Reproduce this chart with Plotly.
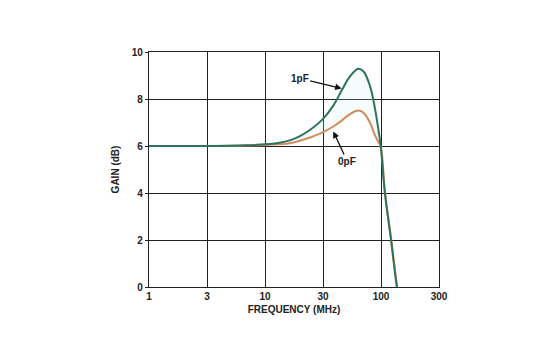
import plotly.graph_objects as go

# Frequency points (MHz)
freq = [1, 2, 3, 5, 7, 10, 13, 16.4, 20, 24.4, 31.2, 38.8, 45.8, 54, 63.7, 70.4,
        80.4, 88.8, 94.8, 99.4, 108, 122, 137, 148]
# Gain (dB) for 1pF and 0pF
gain_1pf = [6.0, 6.0, 6.0, 6.01, 6.03, 6.07, 6.13, 6.24, 6.42, 6.68, 7.12, 7.72, 8.36,
            8.96, 9.29, 9.18, 8.55, 7.58, 6.72, 6.0, 4.0, 2.0, 0.0, -1.0]
gain_0pf = [6.0, 6.0, 6.0, 6.01, 6.02, 6.04, 6.07, 6.12, 6.22, 6.36, 6.57, 6.83, 7.08,
            7.36, 7.51, 7.42, 6.99, 6.45, 6.17, 5.98, 4.1, 2.1, 0.1, -1.0]

x_tickvals = [1, 3.1623, 10, 31.623, 100, 316.23]
x_ticktext = ["1", "3", "10", "30", "100", "300"]
y_tickvals = [0, 2, 4, 6, 8, 10]

green = "#2e735c"
orange = "#d08c5c"

fig = go.Figure()
fig.add_trace(go.Scatter(x=freq, y=gain_0pf, mode="lines",
                         line=dict(color=orange, width=2, shape="spline", smoothing=1.1),
                         showlegend=False, name="0pF"))
fig.add_trace(go.Scatter(x=freq, y=gain_1pf, mode="lines",
                         line=dict(color=green, width=2, shape="spline", smoothing=1.1),
                         fill="tonexty", fillcolor="rgba(200,240,232,0.18)",
                         showlegend=False, name="1pF"))

fnt = dict(family="Liberation Sans, Arial, sans-serif", size=10, color="#222", weight="bold")

fig.update_layout(
    width=538, height=337,
    margin=dict(l=149, r=99, t=52, b=50),
    paper_bgcolor="white", plot_bgcolor="white",
    font=fnt,
    xaxis=dict(type="log", range=[0, 2.5], tickvals=x_tickvals, ticktext=x_ticktext,
               showgrid=True, gridcolor="#222", gridwidth=1.2,
               showline=True, linecolor="#222", linewidth=1.2, mirror=True,
               ticks="", tickfont=fnt, zeroline=False,
               title=dict(text="FREQUENCY (MHz)", font=fnt, standoff=4)),
    yaxis=dict(range=[0, 10], tickvals=y_tickvals,
               showgrid=True, gridcolor="#222", gridwidth=1.2,
               showline=True, linecolor="#222", linewidth=1.2, mirror=True,
               ticks="outside", ticklen=3, tickcolor="#222", tickfont=fnt, zeroline=False,
               title=dict(text="GAIN (dB)", font=fnt, standoff=10)),
    annotations=[
        dict(x=1.661, y=8.45, xref="x", yref="y", text="1pF", showarrow=True,
             ax=-42, ay=-10, arrowhead=2, arrowsize=1, arrowwidth=1.3, arrowcolor="#111",
             font=fnt),
        dict(x=1.589, y=6.62, xref="x", yref="y", text="0pF", showarrow=True,
             ax=14, ay=30, arrowhead=2, arrowsize=1, arrowwidth=1.3, arrowcolor="#111",
             font=fnt),
    ],
)

fig.write_html("out.html")
